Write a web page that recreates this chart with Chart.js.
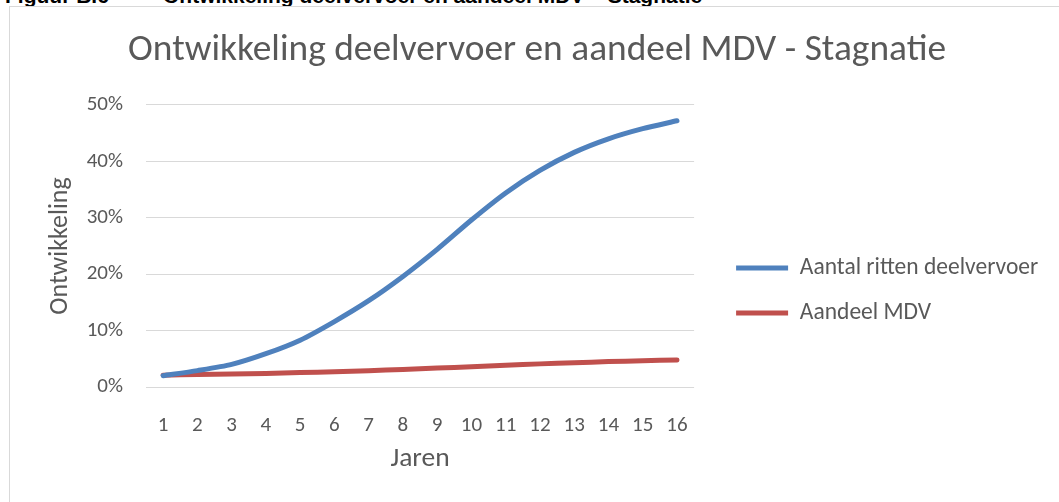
<!DOCTYPE html>
<html>
<head>
<meta charset="utf-8">
<script src="https://cdn.jsdelivr.net/npm/chart.js@4/dist/chart.umd.min.js"></script>
<style>
  html, body { margin: 0; padding: 0; background: #ffffff; overflow: hidden; }
  #wrap { position: relative; width: 1059px; height: 502px; overflow: hidden; }
  #frame { position: absolute; left: 9px; top: 6px; width: 1100px; height: 600px; border: 1px solid #d9d9d9; box-sizing: border-box; }
  #caption { position: absolute; left: 5px; top: -16px; font: bold 21px/24px "Liberation Sans", Arial, sans-serif; color: #000; white-space: nowrap; }
  #caption span { position: absolute; left: 158px; top: 0; }
  #c { position: absolute; left: 0; top: 0; }
</style>
</head>
<body>
<div id="wrap">
  <div id="caption">Figuur B.6<span>Ontwikkeling deelvervoer en aandeel MDV – Stagnatie</span></div>
  <div id="frame"></div>
  <canvas id="c" width="1059" height="502"></canvas>
</div>
<script>
const chartTitle = "Ontwikkeling deelvervoer en aandeel MDV - Stagnatie";
const years = ["1","2","3","4","5","6","7","8","9","10","11","12","13","14","15","16"];
const seriesNames = ["Aantal ritten deelvervoer", "Aandeel MDV"];
const ritten = [2.0, 2.9, 4.0, 5.9, 8.3, 11.6, 15.3, 19.6, 24.4, 29.6, 34.4, 38.4, 41.6, 44.0, 45.8, 47.2];
const aandeelMDV = [2.1, 2.2, 2.3, 2.4, 2.55, 2.7, 2.9, 3.1, 3.35, 3.6, 3.85, 4.1, 4.3, 4.5, 4.65, 4.8];
const yTicks = [0, 10, 20, 30, 40, 50];
const xTitle = "Jaren";
const yTitle = "Ontwikkeling";

const FONT = "Carlito, Lato, 'Open Sans', sans-serif";
const GREY = "#595959";

new Chart(document.getElementById('c'), {
  type: 'line',
  data: {
    labels: years,
    datasets: [
      { label: seriesNames[0], data: ritten, borderColor: '#4F81BD', backgroundColor: '#4F81BD',
        borderWidth: 5, pointRadius: 0, tension: 0.25, borderCapStyle: 'round', borderJoinStyle: 'round' },
      { label: seriesNames[1], data: aandeelMDV, borderColor: '#C0504D', backgroundColor: '#C0504D',
        borderWidth: 5, pointRadius: 0, tension: 0.25, borderCapStyle: 'round', borderJoinStyle: 'round' }
    ]
  },
  options: {
    responsive: false,
    animation: false,
    layout: { padding: { left: 9, top: 6, right: 10.75, bottom: 0 } },
    plugins: {
      tooltip: { enabled: false },
      title: {
        display: true, text: "\u00A0\u00A0" + chartTitle, color: GREY,
        font: { family: FONT, size: 37.4, weight: 'normal' },
        padding: { top: 22, bottom: 32.1 }
      },
      legend: {
        position: 'right',
        maxWidth: 400,
        title: { display: true, text: '', padding: 29.3 },
        labels: {
          color: GREY, font: { family: FONT, size: 23.5 },
          usePointStyle: true, pointStyle: 'line', pointStyleWidth: 52,
          padding: 21.5
        }
      }
    },
    scales: {
      x: {
        offset: true,
        grid: { display: false },
        border: { display: false },
        ticks: { color: GREY, font: { family: FONT, size: 21 }, padding: 18.4, maxRotation: 0, autoSkip: false },
        title: { display: true, text: xTitle, color: GREY, font: { family: FONT, size: 27.5 }, padding: { top: 4, bottom: 26.5 } },
        afterFit: (s) => { s.height = 115; }
      },
      y: {
        min: 0, max: 50,
        afterBuildTicks: (s) => { s.ticks = yTicks.map(v => ({ value: v })); },
        grid: { color: '#d9d9d9', lineWidth: 1, drawTicks: false },
        border: { display: false },
        ticks: { color: GREY, font: { family: FONT, size: 21 }, padding: 23, callback: (v) => v + '%' },
        title: { display: true, text: yTitle, color: GREY, font: { family: FONT, size: 26 }, padding: { top: 36, bottom: 4 } },
        afterFit: (s) => { s.width = 137; }
      },
      gap: {
        position: 'right', display: true,
        grid: { display: false }, border: { display: false }, ticks: { display: false },
        afterFit: (s) => { s.width = 20.5; }
      }
    }
  }
});
</script>
</body>
</html>
